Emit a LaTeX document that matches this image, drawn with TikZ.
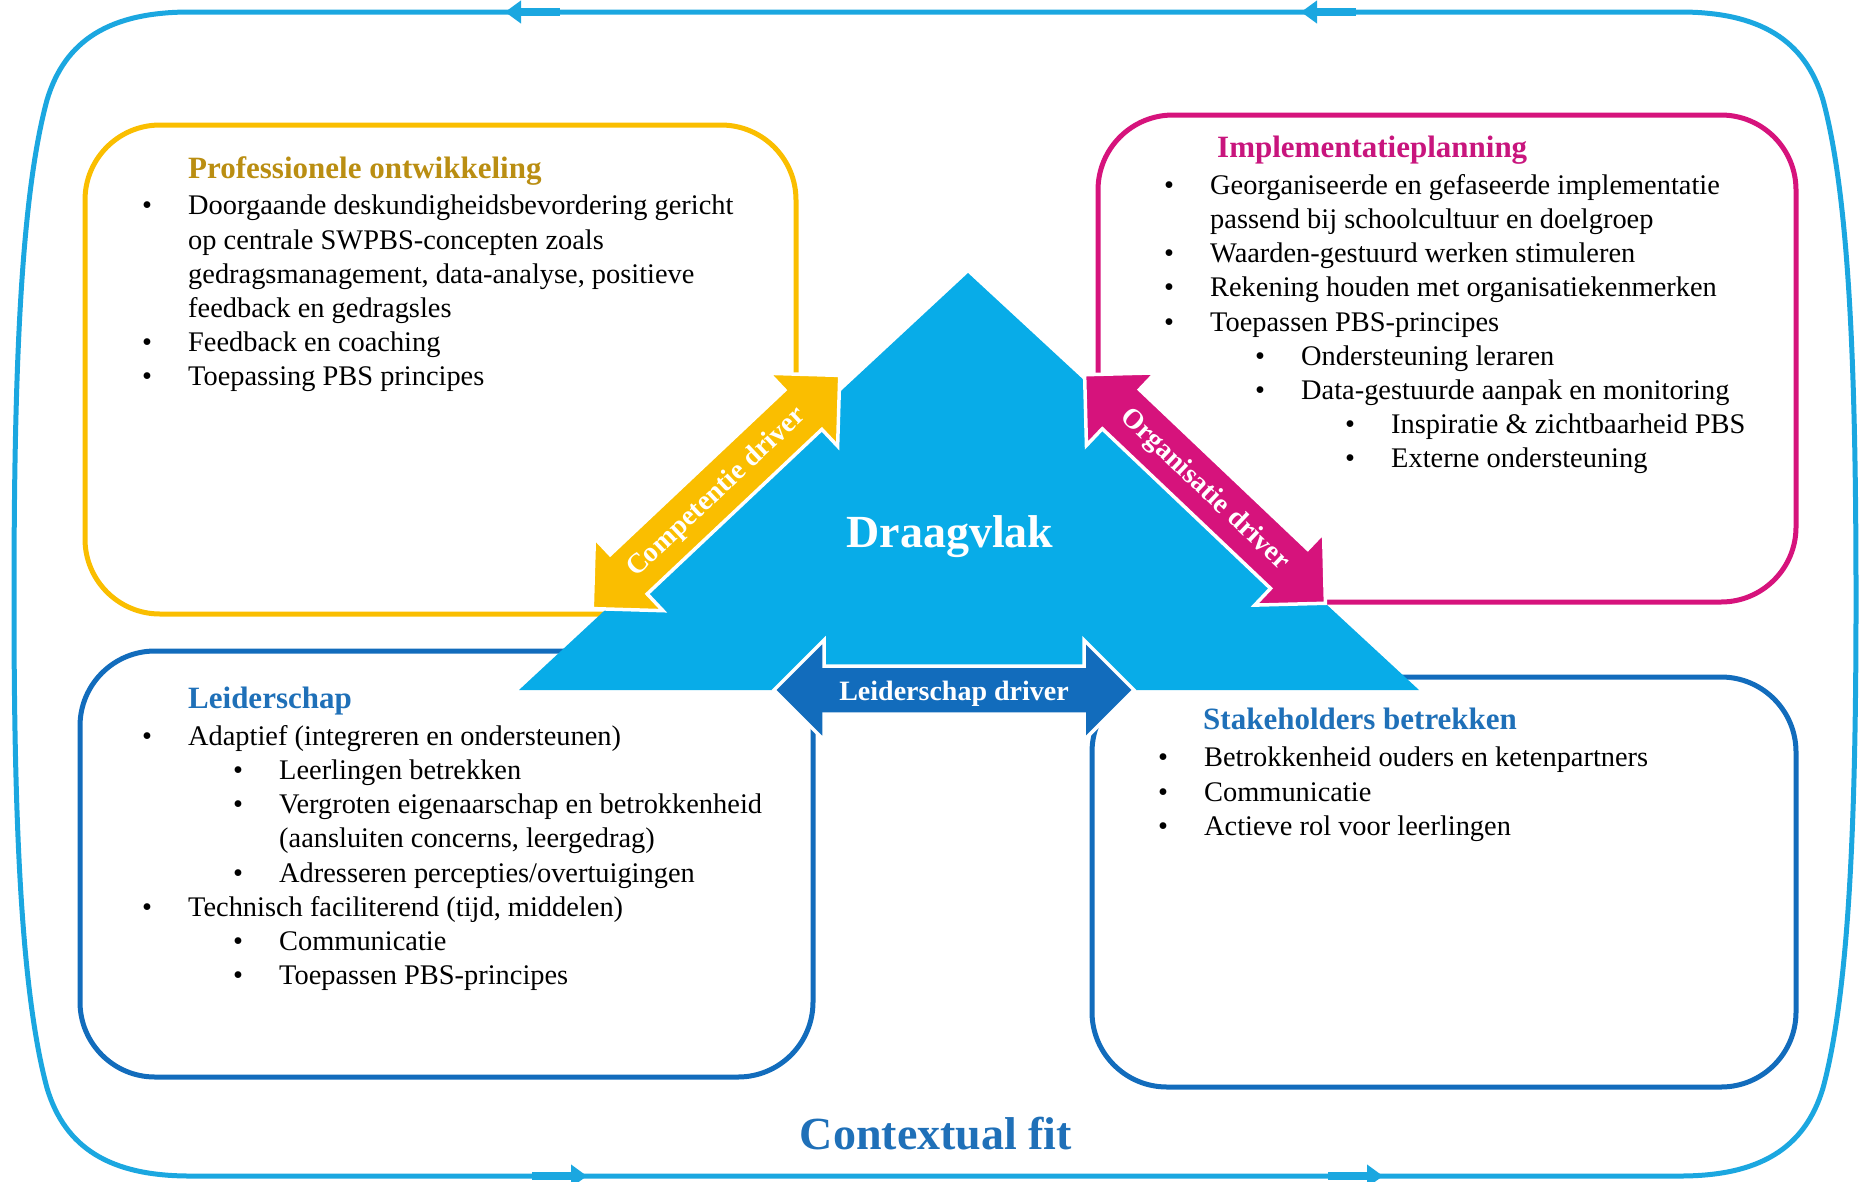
\documentclass[tikz,border=0pt]{standalone}
\usepackage{fontspec}
\setmainfont{Liberation Serif}
\usetikzlibrary{arrows.meta}

\definecolor{fitblue}{RGB}{27,167,224}
\definecolor{vlakblue}{RGB}{8,172,232}
\definecolor{compyellow}{RGB}{250,190,0}
\definecolor{orgpink}{RGB}{214,19,124}
\definecolor{leidblue}{RGB}{18,108,188}
\definecolor{profgold}{RGB}{186,142,18}
\definecolor{implpink}{RGB}{200,21,125}
\definecolor{titleblue}{RGB}{31,112,184}

% list lines
\newcommand{\bulA}[1]{\makebox[46pt][l]{\textbullet}#1}
\newcommand{\contA}[1]{\hspace*{46pt}#1}
\newcommand{\bulB}[1]{\hspace*{91pt}\makebox[46pt][l]{\textbullet}#1}
\newcommand{\contB}[1]{\hspace*{137pt}#1}
\newcommand{\bulC}[1]{\hspace*{181pt}\makebox[46pt][l]{\textbullet}#1}
% double block arrow along the x axis, #1 = half length, #2 = half shaft width
\newcommand{\driverpath}[2]{(-#1,0) -- (-#1+50,-50) -- (-#1+50,-#2) -- (#1-50,-#2) -- (#1-50,-50) -- (#1,0)
  -- (#1-50,50) -- (#1-50,#2) -- (-#1+50,#2) -- (-#1+50,50) -- cycle}

\begin{document}
\begin{tikzpicture}[x=1pt, y=-1pt,
    frame/.style={draw=fitblue, line width=5pt},
    box/.style={line width=5pt, rounded corners=75pt},
    drv/.style={draw=white, line width=3.5pt, line join=miter},
    drvtext/.style={text=white, font=\fontsize{28}{32}\selectfont\bfseries, transform shape},
    head/.style={anchor=base west, inner sep=0pt, font=\fontsize{31}{34}\selectfont\bfseries},
    list/.style={anchor=north west, inner sep=0pt, align=left, font=\fontsize{28.4}{34.2}\selectfont}]
	\useasboundingbox (0,0) rectangle (1862,1181);
	% contextual fit frame
	\draw[frame] (190,12) -- (1680,12)
		.. controls (1760,12) and (1805,40) .. (1823,100)
		.. controls (1850,200) and (1856,380) .. (1856,600)
		.. controls (1856,808) and (1850,988) .. (1823,1088)
		.. controls (1805,1148) and (1760,1176) .. (1680,1176) -- (190,1176)
		.. controls (110,1176) and (65,1148) .. (47,1088)
		.. controls (20,988) and (14,808) .. (14,600)
		.. controls (14,380) and (20,200) .. (47,100)
		.. controls (65,40) and (110,12) .. (190,12) -- cycle;
	\draw[frame, line width=8pt, -{Triangle[length=16pt, width=22pt]}] (560,12) -- (505,12);
	\draw[frame, line width=8pt, -{Triangle[length=16pt, width=22pt]}] (1356,12) -- (1301,12);
	\draw[frame, line width=8pt, -{Triangle[length=16pt, width=22pt]}] (532,1176) -- (587,1176);
	\draw[frame, line width=8pt, -{Triangle[length=16pt, width=22pt]}] (1328,1176) -- (1383,1176);
	% boxes
	\draw[box, draw=compyellow] (85,125) rectangle (796,614);
	\draw[box, draw=orgpink] (1098,115) rectangle (1796,602);
	\draw[box, draw=leidblue] (80,651) rectangle (813,1077);
	\draw[box, draw=leidblue] (1092,677) rectangle (1796,1087);
	% draagvlak
	\coordinate (top) at (968,273);
	\coordinate (right) at (1419,690);
	\coordinate (left) at (519,690);
	\fill[vlakblue] (top) -- (right) -- (left) -- cycle;
	\node[text=white, font=\fontsize{46}{50}\selectfont\bfseries] (vlak) at (950,537) {Draagvlak};
	% drivers
	\begin{scope}[shift={(716,492)}, rotate=43.3]
		\draw[drv, fill=compyellow] \driverpath{170}{27};
		\node[drvtext] (comp) at (0,1) {Competentie driver};
	\end{scope}
	\begin{scope}[shift={(1205,489)}, rotate=-43.5]
		\draw[drv, fill=orgpink] \driverpath{166}{27};
		\node[drvtext] (org) at (0,1) {Organisatie driver};
	\end{scope}
	\begin{scope}[shift={(954,690)}]
		\draw[drv, fill=leidblue] \driverpath{180}{24};
		\node[drvtext] (leid) at (0,4) {Leiderschap driver};
	\end{scope}
	% professionele ontwikkeling
	\node[head, text=profgold] (prof) at (188,178) {Professionele ontwikkeling};
	\node[list] (profl) at (142,195) {\bulA{Doorgaande deskundigheidsbevordering gericht}\\
		\contA{op centrale SWPBS-concepten zoals}\\
		\contA{gedragsmanagement, data-analyse, positieve}\\
		\contA{feedback en gedragsles}\\
		\bulA{Feedback en coaching}\\
		\bulA{Toepassing PBS principes}};
	% implementatieplanning
	\node[head, text=implpink] (impl) at (1217,157) {Implementatieplanning};
	\node[list] (impll) at (1164,174) {\bulA{Georganiseerde en gefaseerde implementatie}\\
		\contA{passend bij schoolcultuur en doelgroep}\\
		\bulA{Waarden-gestuurd werken stimuleren}\\
		\bulA{Rekening houden met organisatiekenmerken}\\
		\bulA{Toepassen PBS-principes}\\
		\bulB{Ondersteuning leraren}\\
		\bulB{Data-gestuurde aanpak en monitoring}\\
		\bulC{Inspiratie \& zichtbaarheid PBS}\\
		\bulC{Externe ondersteuning}};
	% leiderschap
	\node[head, text=titleblue] (leider) at (188,708) {Leiderschap};
	\node[list] (leiderl) at (142,725) {\bulA{Adaptief (integreren en ondersteunen)}\\
		\bulB{Leerlingen betrekken}\\
		\bulB{Vergroten eigenaarschap en betrokkenheid}\\
		\contB{(aansluiten concerns, leergedrag)}\\
		\bulB{Adresseren percepties/overtuigingen}\\
		\bulA{Technisch faciliterend (tijd, middelen)}\\
		\bulB{Communicatie}\\
		\bulB{Toepassen PBS-principes}};
	% stakeholders
	\node[head, text=titleblue] (stake) at (1203,729) {Stakeholders betrekken};
	\node[list] (stakel) at (1158,747) {\bulA{Betrokkenheid ouders en ketenpartners}\\
		\bulA{Communicatie}\\
		\bulA{Actieve rol voor leerlingen}};
	% title
	\node[text=titleblue, font=\fontsize{46}{50}\selectfont\bfseries] (fit) at (936,1134) {Contextual fit};
\end{tikzpicture}
\end{document}
